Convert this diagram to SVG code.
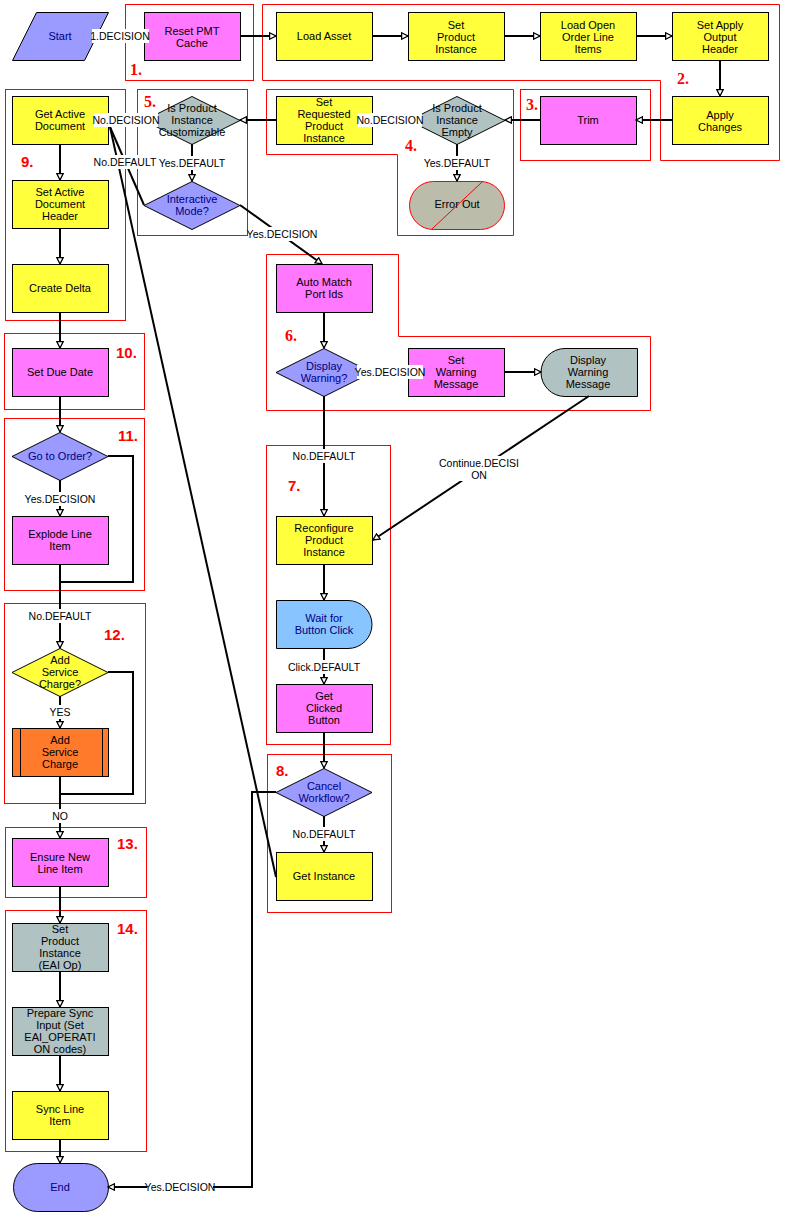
<svg xmlns="http://www.w3.org/2000/svg" width="794" height="1220" viewBox="0 0 794 1220">
<defs>
<marker id="ah" viewBox="0 0 10 10" refX="9" refY="5" markerWidth="8" markerHeight="8" markerUnits="userSpaceOnUse" orient="auto">
<path d="M1,1 L9,5 L1,9 Z" fill="#ffffff" stroke="#000000" stroke-width="1.6"/>
</marker>
</defs>
<style>
.frame{fill:none;stroke:#ff0000;stroke-width:1}
.nd{stroke:#000000;stroke-width:1}
.fy{fill:#ffff3c}
.fm{fill:#ff78ff}
.fb{fill:#9a9aff}
.fl{fill:#88c4ff}
.ft{fill:#b0c2c2}
.fe{fill:#bcbcaa}
.fr{fill:#ff7a2a}
.t{font-family:"Liberation Sans",Arial,sans-serif;font-size:11px;fill:#000000;text-anchor:middle}
.tb{font-family:"Liberation Sans",Arial,sans-serif;font-size:11px;fill:#000080;text-anchor:middle}
.ns{font-family:"Liberation Serif","Times New Roman",serif;font-size:16px;font-weight:bold;fill:#ff0000}
.na{font-family:"Liberation Sans",Arial,sans-serif;font-size:15px;font-weight:bold;fill:#ff0000}
.c{fill:none;stroke:#000000;stroke-width:2}
.ca{fill:none;stroke:#000000;stroke-width:2;marker-end:url(#ah)}
.lb{fill:#ffffff}
.lt{font-family:"Liberation Sans",Arial,sans-serif;font-size:10.5px;fill:#000000;text-anchor:middle}
</style>
<rect width="794" height="1220" fill="#ffffff"/>

<g id="frames">
<rect class="frame" x="125.5" y="4.5" width="128" height="76"/>
<polygon class="frame" points="262.5,4.5 779.5,4.5 779.5,160.5 660.5,160.5 660.5,80.5 262.5,80.5"/>
<rect class="frame" x="520.5" y="89.5" width="130" height="71"/>
<polygon class="frame" points="266.5,89.5 513.5,89.5 513.5,235.5 397.5,235.5 397.5,154.5 266.5,154.5"/>
<rect class="frame" x="137.5" y="89.5" width="110" height="146"/>
<polygon class="frame" points="266.5,254.5 398.5,254.5 398.5,336.5 650.5,336.5 650.5,410.5 266.5,410.5"/>
<rect class="frame" x="266.5" y="445.5" width="124" height="299"/>
<rect class="frame" x="267.5" y="754.5" width="124" height="158"/>
<rect class="frame" x="5.5" y="89.5" width="120" height="231"/>
<rect class="frame" x="4.5" y="333.5" width="140" height="76"/>
<rect class="frame" x="4.5" y="418.5" width="140" height="172"/>
<rect class="frame" x="4.5" y="603.5" width="141" height="200"/>
<rect class="frame" x="5.5" y="827.5" width="141" height="70"/>
<rect class="frame" x="5.5" y="910.5" width="141" height="241"/>
<text class="ns" x="130" y="75">1.</text>
<text class="ns" x="677" y="84">2.</text>
<text class="ns" x="526" y="110">3.</text>
<text class="ns" x="405" y="151">4.</text>
<text class="ns" x="144" y="107">5.</text>
<text class="ns" x="285" y="341">6.</text>
<text class="na" x="288" y="491">7.</text>
<text class="na" x="276" y="776">8.</text>
<text class="na" x="21" y="167">9.</text>
<text class="na" x="116" y="358">10.</text>
<text class="na" x="118" y="441">11.</text>
<text class="na" x="104" y="640">12.</text>
<text class="na" x="117" y="849">13.</text>
<text class="na" x="117" y="934">14.</text>
</g>

<g id="n-start"><polygon class="nd fb" points="36.5,12.5 108.5,12.5 84.5,60.5 12.5,60.5"/><text class="tb" x="60" y="40">Start</text></g>
<g id="n-reset"><rect class="nd fm" x="144.5" y="12.5" width="96" height="48"/><text class="t" x="192" y="35">Reset PMT</text><text class="t" x="192" y="47">Cache</text></g>
<g id="n-loadasset"><rect class="nd fy" x="276.5" y="12.5" width="96" height="48"/><text class="t" x="324" y="40">Load Asset</text></g>
<g id="n-setpi"><rect class="nd fy" x="408.5" y="12.5" width="96" height="48"/><text class="t" x="456" y="29">Set</text><text class="t" x="456" y="41">Product</text><text class="t" x="456" y="53">Instance</text></g>
<g id="n-loadopen"><rect class="nd fy" x="540.5" y="12.5" width="96" height="48"/><text class="t" x="588" y="29">Load Open</text><text class="t" x="588" y="41">Order Line</text><text class="t" x="588" y="53">Items</text></g>
<g id="n-setapply"><rect class="nd fy" x="672.5" y="12.5" width="96" height="48"/><text class="t" x="720" y="29">Set Apply</text><text class="t" x="720" y="41">Output</text><text class="t" x="720" y="53">Header</text></g>
<g id="n-apply"><rect class="nd fy" x="672.5" y="96.5" width="96" height="48"/><text class="t" x="720" y="119">Apply</text><text class="t" x="720" y="131">Changes</text></g>
<g id="n-trim"><rect class="nd fm" x="540.5" y="96.5" width="96" height="48"/><text class="t" x="588" y="124">Trim</text></g>
<g id="n-empty"><polygon class="nd ft" points="457,96.5 505,120.5 457,144.5 409,120.5"/><text class="t" x="457" y="112">Is Product</text><text class="t" x="457" y="124">Instance</text><text class="t" x="457" y="136">Empty</text></g>
<g id="n-error"><rect class="fe" x="409.5" y="181.5" width="95" height="48" rx="24" ry="24" stroke="#ff0000" stroke-width="1"/><line x1="432" y1="229" x2="482" y2="182" stroke="#ff0000" stroke-width="1"/><text class="t" x="457" y="208">Error Out</text></g>
<g id="n-setreq"><rect class="nd fy" x="276.5" y="96.5" width="96" height="48"/><text class="t" x="324" y="106">Set</text><text class="t" x="324" y="118">Requested</text><text class="t" x="324" y="130">Product</text><text class="t" x="324" y="142">Instance</text></g>
<g id="n-custom"><polygon class="nd ft" points="192,96.5 240,120.5 192,144.5 144,120.5"/><text class="t" x="192" y="112">Is Product</text><text class="t" x="192" y="124">Instance</text><text class="t" x="192" y="136">Customizable</text></g>
<g id="n-interactive"><polygon class="nd fb" points="192,181.5 240,205.5 192,229.5 144,205.5"/><text class="tb" x="192" y="203">Interactive</text><text class="tb" x="192" y="215">Mode?</text></g>
<g id="n-getactive"><rect class="nd fy" x="12.5" y="96.5" width="96" height="48"/><text class="t" x="60" y="118">Get Active</text><text class="t" x="60" y="130">Document</text></g>
<g id="n-setactive"><rect class="nd fy" x="12.5" y="180.5" width="96" height="48"/><text class="t" x="60" y="196">Set Active</text><text class="t" x="60" y="208">Document</text><text class="t" x="60" y="220">Header</text></g>
<g id="n-delta"><rect class="nd fy" x="12.5" y="264.5" width="96" height="48"/><text class="t" x="60" y="292">Create Delta</text></g>
<g id="n-duedate"><rect class="nd fm" x="12.5" y="348.5" width="96" height="48"/><text class="t" x="60" y="376">Set Due Date</text></g>
<g id="n-gotoorder"><polygon class="nd fb" points="60,432.5 108,456.5 60,480.5 12,456.5"/><text class="tb" x="60" y="460">Go to Order?</text></g>
<g id="n-explode"><rect class="nd fm" x="12.5" y="516.5" width="96" height="48"/><text class="t" x="60" y="538">Explode Line</text><text class="t" x="60" y="550">Item</text></g>
<g id="n-addscq"><polygon class="nd fy" points="60,648.5 108,672.5 60,696.5 12,672.5"/><text class="t" x="60" y="664">Add</text><text class="t" x="60" y="676">Service</text><text class="t" x="60" y="688">Charge?</text></g>
<g id="n-addsc"><rect class="nd fr" x="12.5" y="728.5" width="96" height="48"/><line x1="20.5" y1="728.5" x2="20.5" y2="776.5" stroke="#000" stroke-width="1"/><line x1="102.5" y1="728.5" x2="102.5" y2="776.5" stroke="#000" stroke-width="1"/><text class="t" x="60" y="744">Add</text><text class="t" x="60" y="756">Service</text><text class="t" x="60" y="768">Charge</text></g>
<g id="n-ensure"><rect class="nd fm" x="12.5" y="838.5" width="96" height="48"/><text class="t" x="60" y="861">Ensure New</text><text class="t" x="60" y="873">Line Item</text></g>
<g id="n-setpieai"><rect class="nd ft" x="12.5" y="923.5" width="96" height="48"/><text class="t" x="60" y="933">Set</text><text class="t" x="60" y="945">Product</text><text class="t" x="60" y="957">Instance</text><text class="t" x="60" y="969">(EAI Op)</text></g>
<g id="n-prepare"><rect class="nd ft" x="12.5" y="1007.5" width="96" height="48"/><text class="t" x="60" y="1017">Prepare Sync</text><text class="t" x="60" y="1029">Input (Set</text><text class="t" x="60" y="1041">EAI_OPERATI</text><text class="t" x="60" y="1053">ON codes)</text></g>
<g id="n-sync"><rect class="nd fy" x="12.5" y="1091.5" width="96" height="48"/><text class="t" x="60" y="1113">Sync Line</text><text class="t" x="60" y="1125">Item</text></g>
<g id="n-end"><rect class="nd fb" x="13.5" y="1163.5" width="95" height="48" rx="24" ry="24"/><text class="tb" x="60" y="1191">End</text></g>
<g id="n-automatch"><rect class="nd fm" x="276.5" y="264.5" width="96" height="48"/><text class="t" x="324" y="286">Auto Match</text><text class="t" x="324" y="298">Port Ids</text></g>
<g id="n-dispwarnq"><polygon class="nd fb" points="324,348.5 372,372.5 324,396.5 276,372.5"/><text class="tb" x="324" y="370">Display</text><text class="tb" x="324" y="382">Warning?</text></g>
<g id="n-setwarn"><rect class="nd fm" x="408.5" y="348.5" width="96" height="48"/><text class="t" x="456" y="364">Set</text><text class="t" x="456" y="376">Warning</text><text class="t" x="456" y="388">Message</text></g>
<g id="n-dispwarn"><path class="nd ft" d="M565,348.5 H637.5 V396.5 H565 A24,24 0 0 1 565,348.5 Z"/><text class="t" x="588" y="364">Display</text><text class="t" x="588" y="376">Warning</text><text class="t" x="588" y="388">Message</text></g>
<g id="n-reconfig"><rect class="nd fy" x="276.5" y="516.5" width="96" height="48"/><text class="t" x="324" y="532">Reconfigure</text><text class="t" x="324" y="544">Product</text><text class="t" x="324" y="556">Instance</text></g>
<g id="n-wait"><path class="nd fl" d="M276.5,600.5 H348 A24,24 0 0 1 348,648.5 H276.5 Z"/><text class="tb" x="324" y="622">Wait for</text><text class="tb" x="324" y="634">Button Click</text></g>
<g id="n-getclicked"><rect class="nd fm" x="276.5" y="684.5" width="96" height="48"/><text class="t" x="324" y="700">Get</text><text class="t" x="324" y="712">Clicked</text><text class="t" x="324" y="724">Button</text></g>
<g id="n-cancel"><polygon class="nd fb" points="324,768.5 372,792.5 324,816.5 276,792.5"/><text class="tb" x="324" y="790">Cancel</text><text class="tb" x="324" y="802">Workflow?</text></g>
<g id="n-getinst"><rect class="nd fy" x="276.5" y="852.5" width="96" height="48"/><text class="t" x="324" y="880">Get Instance</text></g>

<g id="connectors">
<line class="ca" x1="96" y1="36" x2="144" y2="36"/>
<line class="ca" x1="240" y1="36" x2="276" y2="36"/>
<line class="ca" x1="372" y1="36" x2="408" y2="36"/>
<line class="ca" x1="504" y1="36" x2="540" y2="36"/>
<line class="ca" x1="636" y1="36" x2="672" y2="36"/>
<line class="ca" x1="720" y1="60" x2="720" y2="96"/>
<line class="ca" x1="672" y1="120" x2="636" y2="120"/>
<line class="ca" x1="540" y1="120" x2="505" y2="120"/>
<line class="ca" x1="409" y1="120" x2="372" y2="120"/>
<line class="ca" x1="457" y1="144" x2="457" y2="181"/>
<line class="ca" x1="276" y1="120" x2="240" y2="120"/>
<line class="ca" x1="144" y1="120" x2="108" y2="120"/>
<line class="ca" x1="192" y1="144" x2="192" y2="181"/>
<line class="c" x1="144" y1="205" x2="110" y2="127"/>
<line class="ca" x1="240" y1="205" x2="322" y2="264"/>
<line class="ca" x1="324" y1="312" x2="324" y2="348"/>
<line class="ca" x1="372" y1="372" x2="408" y2="372"/>
<line class="ca" x1="504" y1="372" x2="541" y2="372"/>
<line class="ca" x1="589" y1="396" x2="373" y2="540"/>
<line class="ca" x1="324" y1="396" x2="324" y2="516"/>
<line class="ca" x1="324" y1="564" x2="324" y2="600"/>
<line class="ca" x1="324" y1="648" x2="324" y2="684"/>
<line class="ca" x1="324" y1="732" x2="324" y2="768"/>
<line class="ca" x1="324" y1="816" x2="324" y2="852"/>
<line class="c" x1="276" y1="877" x2="110" y2="127"/>
<polyline class="ca" points="276,792 252,792 252,1187 108,1187"/>
<line class="ca" x1="60" y1="144" x2="60" y2="180"/>
<line class="ca" x1="60" y1="228" x2="60" y2="264"/>
<line class="ca" x1="60" y1="312" x2="60" y2="348"/>
<line class="ca" x1="60" y1="396" x2="60" y2="432"/>
<line class="ca" x1="60" y1="480" x2="60" y2="516"/>
<polyline class="c" points="108,456 133,456 133,582 60,582"/>
<line class="ca" x1="60" y1="564" x2="60" y2="648"/>
<line class="ca" x1="60" y1="696" x2="60" y2="728"/>
<polyline class="c" points="108,672 133,672 133,794 60,794"/>
<line class="ca" x1="60" y1="776" x2="60" y2="838"/>
<line class="ca" x1="60" y1="886" x2="60" y2="923"/>
<line class="ca" x1="60" y1="971" x2="60" y2="1007"/>
<line class="ca" x1="60" y1="1055" x2="60" y2="1091"/>
<line class="ca" x1="60" y1="1139" x2="60" y2="1163"/>

<rect class="lb" x="92" y="29" width="57" height="14"/><text class="lt" x="120" y="40">1.DECISION</text>
<rect class="lb" x="94" y="113" width="64" height="14"/><text class="lt" x="126" y="124">No.DECISION</text>
<rect class="lb" x="96" y="155" width="59" height="14"/><text class="lt" x="125" y="166">No.DEFAULT</text>
<rect class="lb" x="161" y="156" width="62" height="14"/><text class="lt" x="192" y="167">Yes.DEFAULT</text>
<rect class="lb" x="358" y="113" width="64" height="14"/><text class="lt" x="390" y="124">No.DECISION</text>
<rect class="lb" x="426" y="156" width="62" height="14"/><text class="lt" x="457" y="167">Yes.DEFAULT</text>
<rect class="lb" x="249" y="227" width="66" height="14"/><text class="lt" x="282" y="238">Yes.DECISION</text>
<rect class="lb" x="357" y="365" width="66" height="14"/><text class="lt" x="390" y="376">Yes.DECISION</text>
<rect class="lb" x="294" y="449" width="60" height="14"/><text class="lt" x="324" y="460">No.DEFAULT</text>
<rect class="lb" x="440" y="456" width="79" height="25"/><text class="lt" x="479" y="467">Continue.DECISI</text><text class="lt" x="479" y="479">ON</text>
<rect class="lb" x="289" y="660" width="70" height="14"/><text class="lt" x="324" y="671">Click.DEFAULT</text>
<rect class="lb" x="294" y="827" width="60" height="14"/><text class="lt" x="324" y="838">No.DEFAULT</text>
<rect class="lb" x="27" y="492" width="66" height="14"/><text class="lt" x="60" y="503">Yes.DECISION</text>
<rect class="lb" x="30" y="609" width="60" height="14"/><text class="lt" x="60" y="620">No.DEFAULT</text>
<rect class="lb" x="49" y="705" width="22" height="14"/><text class="lt" x="60" y="716">YES</text>
<rect class="lb" x="52" y="809" width="16" height="14"/><text class="lt" x="60" y="820">NO</text>
<rect class="lb" x="147" y="1180" width="66" height="14"/><text class="lt" x="180" y="1191">Yes.DECISION</text>
</g>
</svg>
